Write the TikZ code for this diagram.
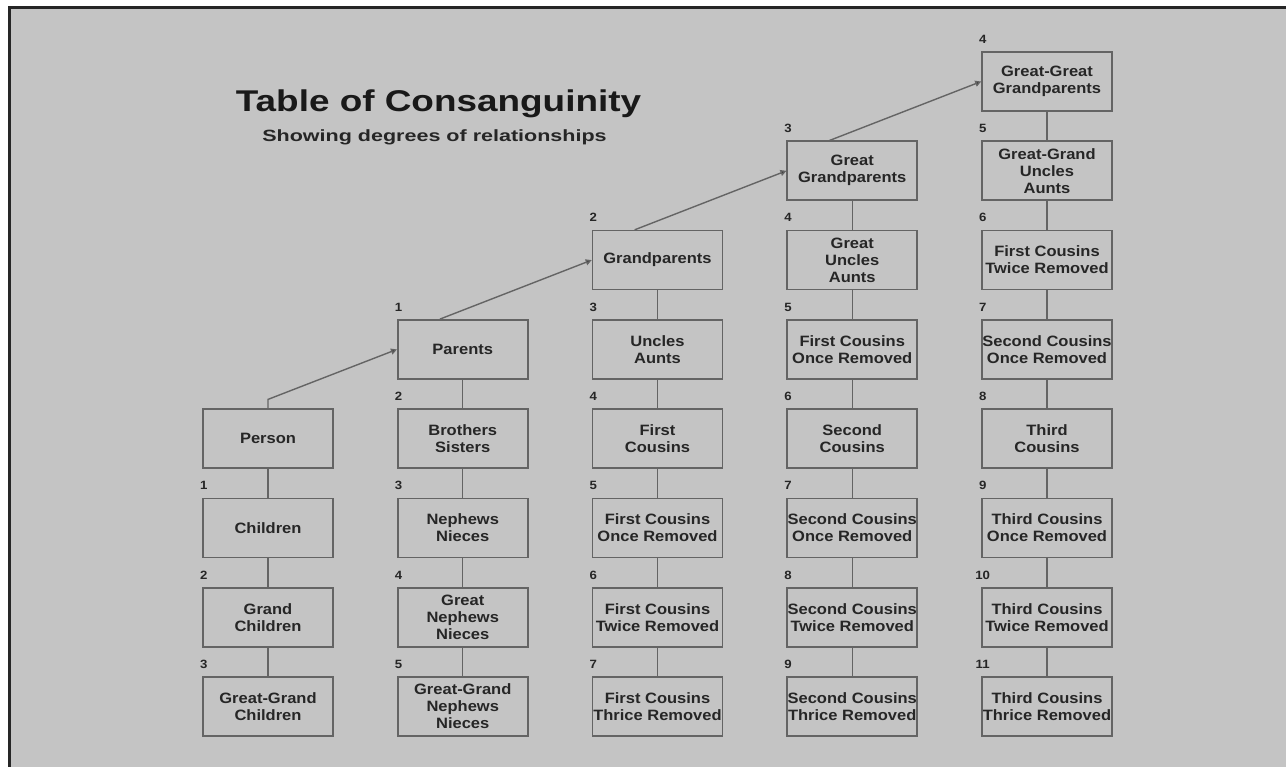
\documentclass[tikz,border=0pt]{standalone}
\usepackage{fontspec}
\setmainfont{Liberation Sans}
\newfontfamily\boxfont[FakeStretch=1.1]{Liberation Sans}
\newfontfamily\headfont[FakeStretch=1.23]{Liberation Sans}
\newfontfamily\subfont[FakeStretch=1.32]{Liberation Sans}
\usetikzlibrary{arrows.meta}
\definecolor{sheet}{RGB}{196,196,196}
\definecolor{rule}{RGB}{100,100,100}
\definecolor{ink}{RGB}{38,38,38}
\newcommand{\boxw}{130pt}
\newcommand{\boxh}{59pt}
\newcommand{\rise}{8pt}
\newcommand{\tipsize}{6pt}
\tikzset{
  rel/.style={draw=rule, line width=1.6pt, minimum width=\boxw, minimum height=\boxh,
    inner sep=0pt, align=center, text=ink, font=\boxfont\bfseries\fontsize{15}{17}\selectfont},
  deg/.style={anchor=base, text=ink, xshift=1.5pt, yshift=\rise,
    font=\boxfont\bfseries\fontsize{12}{13}\selectfont},
  link/.style={draw=rule, line width=1.4pt},
  up/.style={link, -{Triangle[length=\tipsize,width=\tipsize,fill=ink]}}
}

\begin{document}
\begin{tikzpicture}[x=194.75pt, y=89.3pt]
\useasboundingbox (-268pt,81.5pt) rectangle (1018pt,-685.5pt);
\fill[white] (-268pt,81.5pt) rectangle (1018pt,-685.5pt);
\fill[sheet] (-258pt,74pt) rectangle (1018pt,-685.5pt);
\draw[black!85, line width=3pt] (-258pt,-685.5pt) -- (-258pt,74pt) -- (1018pt,74pt);
%title
\node[anchor=base, text=black!90, font=\headfont\bfseries\fontsize{30}{34}\selectfont] (title) at (170.5pt,-30.2pt) {Table of Consanguinity};
\node[anchor=base, text=ink, font=\subfont\bfseries\fontsize{16.3}{18}\selectfont] (subtitle) at (166.5pt,-60.2pt) {Showing degrees of relationships};
%column 0
\node[rel] (person) at (0,-4) {Person};
\node[rel] (children) at (0,-5) {Children};
\node[rel] (grandchildren) at (0,-6) {Grand\\Children};
\node[rel] (ggchildren) at (0,-7) {Great-Grand\\Children};
\node[deg] (d-children) at (children.north west) {1};
\node[deg] (d-grandchildren) at (grandchildren.north west) {2};
\node[deg] (d-ggchildren) at (ggchildren.north west) {3};
\draw[link] (person) -- (children);
\draw[link] (children) -- (grandchildren);
\draw[link] (grandchildren) -- (ggchildren);
%column 1
\node[rel] (parents) at (1,-3) {Parents};
\node[rel] (siblings) at (1,-4) {Brothers\\Sisters};
\node[rel] (nephews) at (1,-5) {Nephews\\Nieces};
\node[rel] (gnephews) at (1,-6) {Great\\Nephews\\Nieces};
\node[rel] (ggnephews) at (1,-7) {Great-Grand\\Nephews\\Nieces};
\node[deg] (d-parents) at (parents.north west) {1};
\node[deg] (d-siblings) at (siblings.north west) {2};
\node[deg] (d-nephews) at (nephews.north west) {3};
\node[deg] (d-gnephews) at (gnephews.north west) {4};
\node[deg] (d-ggnephews) at (ggnephews.north west) {5};
\draw[link] (parents) -- (siblings);
\draw[link] (siblings) -- (nephews);
\draw[link] (nephews) -- (gnephews);
\draw[link] (gnephews) -- (ggnephews);
%column 2
\node[rel] (grandparents) at (2,-2) {Grandparents};
\node[rel] (uncles) at (2,-3) {Uncles\\Aunts};
\node[rel] (fc) at (2,-4) {First\\Cousins};
\node[rel] (fc-once) at (2,-5) {First Cousins\\Once Removed};
\node[rel] (fc-twice) at (2,-6) {First Cousins\\Twice Removed};
\node[rel] (fc-thrice) at (2,-7) {First Cousins\\Thrice Removed};
\node[deg] (d-grandparents) at (grandparents.north west) {2};
\node[deg] (d-uncles) at (uncles.north west) {3};
\node[deg] (d-fc) at (fc.north west) {4};
\node[deg] (d-fc-once) at (fc-once.north west) {5};
\node[deg] (d-fc-twice) at (fc-twice.north west) {6};
\node[deg] (d-fc-thrice) at (fc-thrice.north west) {7};
\draw[link] (grandparents) -- (uncles);
\draw[link] (uncles) -- (fc);
\draw[link] (fc) -- (fc-once);
\draw[link] (fc-once) -- (fc-twice);
\draw[link] (fc-twice) -- (fc-thrice);
%column 3
\node[rel] (ggparents) at (3,-1) {Great\\Grandparents};
\node[rel] (guncles) at (3,-2) {Great\\Uncles\\Aunts};
\node[rel] (fc-once-up) at (3,-3) {First Cousins\\Once Removed};
\node[rel] (sc) at (3,-4) {Second\\Cousins};
\node[rel] (sc-once) at (3,-5) {Second Cousins\\Once Removed};
\node[rel] (sc-twice) at (3,-6) {Second Cousins\\Twice Removed};
\node[rel] (sc-thrice) at (3,-7) {Second Cousins\\Thrice Removed};
\node[deg] (d-ggparents) at (ggparents.north west) {3};
\node[deg] (d-guncles) at (guncles.north west) {4};
\node[deg] (d-fc-once-up) at (fc-once-up.north west) {5};
\node[deg] (d-sc) at (sc.north west) {6};
\node[deg] (d-sc-once) at (sc-once.north west) {7};
\node[deg] (d-sc-twice) at (sc-twice.north west) {8};
\node[deg] (d-sc-thrice) at (sc-thrice.north west) {9};
\draw[link] (ggparents) -- (guncles);
\draw[link] (guncles) -- (fc-once-up);
\draw[link] (fc-once-up) -- (sc);
\draw[link] (sc) -- (sc-once);
\draw[link] (sc-once) -- (sc-twice);
\draw[link] (sc-twice) -- (sc-thrice);
%column 4
\node[rel] (gggparents) at (4,0) {Great-Great\\Grandparents};
\node[rel] (gguncles) at (4,-1) {Great-Grand\\Uncles\\Aunts};
\node[rel] (fc-twice-up) at (4,-2) {First Cousins\\Twice Removed};
\node[rel] (sc-once-up) at (4,-3) {Second Cousins\\Once Removed};
\node[rel] (tc) at (4,-4) {Third\\Cousins};
\node[rel] (tc-once) at (4,-5) {Third Cousins\\Once Removed};
\node[rel] (tc-twice) at (4,-6) {Third Cousins\\Twice Removed};
\node[rel] (tc-thrice) at (4,-7) {Third Cousins\\Thrice Removed};
\node[deg] (d-gggparents) at (gggparents.north west) {4};
\node[deg] (d-gguncles) at (gguncles.north west) {5};
\node[deg] (d-fc-twice-up) at (fc-twice-up.north west) {6};
\node[deg] (d-sc-once-up) at (sc-once-up.north west) {7};
\node[deg] (d-tc) at (tc.north west) {8};
\node[deg] (d-tc-once) at (tc-once.north west) {9};
\node[deg] (d-tc-twice) at (tc-twice.north west) {10};
\node[deg] (d-tc-thrice) at (tc-thrice.north west) {11};
\draw[link] (gggparents) -- (gguncles);
\draw[link] (gguncles) -- (fc-twice-up);
\draw[link] (fc-twice-up) -- (sc-once-up);
\draw[link] (sc-once-up) -- (tc);
\draw[link] (tc) -- (tc-once);
\draw[link] (tc-once) -- (tc-twice);
\draw[link] (tc-twice) -- (tc-thrice);
%ancestors
\draw[up] (person.north) -- ++(0,9pt) -- (parents.west);
\draw[up] ([xshift=43pt]parents.north west) -- (grandparents.west);
\draw[up] ([xshift=43pt]grandparents.north west) -- (ggparents.west);
\draw[up] ([xshift=43pt]ggparents.north west) -- (gggparents.west);
\end{tikzpicture}
\end{document}
